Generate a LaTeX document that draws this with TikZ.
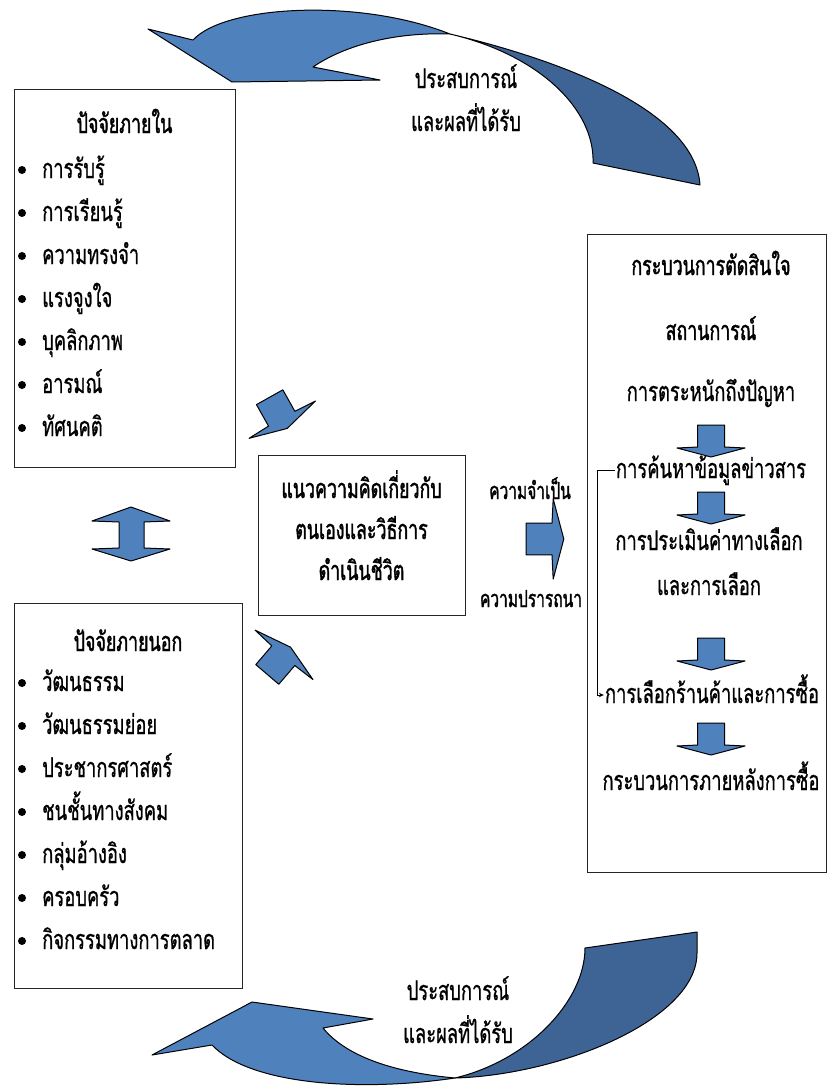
\documentclass[tikz,border=0pt]{standalone}
\usepackage{fontspec}
\setmainfont[Script=Thai]{Loma}
\newfontfamily\thai[Script=Thai, FakeStretch=0.68, FakeBold=0.8]{Loma}
\newfontfamily\thaib[Script=Thai, FakeStretch=0.66, FakeBold=1.4]{Loma}
\usetikzlibrary{arrows.meta}
\definecolor{ablue}{HTML}{4F81BD}
\definecolor{dblue}{HTML}{3E6496}
\tikzset{
  blk/.style={fill=ablue, draw=black, line width=1pt, line join=round},
  blockdown/.pic={\draw[blk] (-13.5,-22) -- (13.5,-22) -- (13.5,0) -- (34,1) -- (0,10) -- (-34,1) -- (-13.5,0) -- cycle;}
}
\begin{document}
\begin{tikzpicture}[x=1pt,y=-1pt,
  txt/.style={inner sep=0pt, anchor=base, font=\thai\fontsize{27}{31}\selectfont},
  itm/.style={txt, anchor=base west},
  ttl/.style={inner sep=0pt, anchor=base, font=\thaib\fontsize{27}{31}\selectfont},
  box/.style={draw=black!85, line width=1pt, inner sep=0pt},
  dot/.style={circle, fill=black, inner sep=0pt, minimum size=8pt}]
\useasboundingbox (0,0) rectangle (828,1090);

% boxes
\node[box, minimum width=221pt, minimum height=378pt] (inner) at (124.5,278) {};
\node[box, minimum width=228pt, minimum height=385pt] (outer) at (128,795.5) {};
\node[box, minimum width=207pt, minimum height=160pt] (center) at (361.5,535) {};
\node[box, minimum width=239pt, minimum height=638pt] (right) at (706.5,553) {};

% inner factors
\node[ttl] (t1) at (124.5,133) {ปัจจัยภายใน};
\foreach \t [count=\i] in {การรับรู้,การเรียนรู้,ความทรงจำ,แรงจูงใจ,บุคลิกภาพ,อารมณ์,ทัศนคติ}{
  \node[dot] (ib\i) at (22,{127+43*\i}) {};
  \node[itm] (it\i) at (42,{135+43*\i}) {\t};
}
% outer factors
\node[ttl] (t2) at (128,651) {ปัจจัยภายนอก};
\foreach \t [count=\i] in {วัฒนธรรม,วัฒนธรรมย่อย,ประชากรศาสตร์,ชนชั้นทางสังคม,กลุ่มอ้างอิง,ครอบครัว,กิจกรรมทางการตลาด}{
  \node[dot] (ob\i) at (22,{640+43*\i}) {};
  \node[itm] (ot\i) at (42,{648+43*\i}) {\t};
}
% center
\node[ttl] (c1) at (361.5,498) {แนวความคิดเกี่ยวกับ};
\node[ttl] (c2) at (361.5,539) {ตนเองและวิธีการ};
\node[ttl] (c3) at (361.5,580) {ดำเนินชีวิต};
\node[ttl, font=\thaib\fontsize{23.5}{27}\selectfont] (n1) at (530,499) {ความจำเป็น};
\node[ttl, font=\thaib\fontsize{23.5}{27}\selectfont] (n2) at (531,607) {ความปรารถนา};

% right box
\node[ttl] (r1) at (711,275) {กระบวนการตัดสินใจ};
\node[ttl] (r2) at (711,340) {สถานการณ์};
\node[txt] (r3) at (711,401) {การตระหนักถึงปัญหา};
\node[txt, inner xsep=1pt] (search) at (711,478) {การค้นหาข้อมูลข่าวสาร};
\node[txt] (r5) at (709,550) {การประเมินค่าทางเลือก};
\node[txt] (r6) at (709,595) {และการเลือก};
\node[txt, inner xsep=1pt] (select) at (712,703) {การเลือกร้านค้าและการซื้อ};
\node[txt] (r8) at (711,790) {กระบวนการภายหลังการซื้อ};
\coordinate (bend) at (597,470);
\draw[-{Stealth[length=5pt,width=4.5pt]}, line width=0.8pt] ([yshift=8pt]search.base west) -- ([yshift=8pt]search.base west -| bend) |- ([yshift=8pt]select.base west);

% block arrows
\pic at (711,447) {blockdown};
\pic at (711,514) {blockdown};
\pic at (711,660) {blockdown};
\pic at (711,745) {blockdown};
\pic[rotate=29.3, scale=1.12] at (281.7,418.7) {blockdown};
\pic[rotate=139.5, scale=1.12] at (283.3,655.7) {blockdown};
\pic[rotate=90, scale=1.18] at (552,539) {blockdown};
\draw[blk] (131,507) -- (170,521) -- (144,522) -- (144,548) -- (170,549) -- (131,561)
  -- (92,549) -- (119,548) -- (119,522) -- (92,521) -- cycle;

% top curved arrow
\draw[blk, fill=dblue] (450,34) .. controls (560,60) and (695,110) .. (700,185)
  -- (593,163) .. controls (595,110) and (540,55) .. (450,34) -- cycle;
\draw[blk] (450,34) .. controls (360,-2) and (225,5) .. (193,40) -- (148,29) -- (232,82)
  -- (380,80) -- (313,67) .. controls (345,45) and (395,32) .. (450,34) -- cycle;
\node[txt] (e1) at (466,88) {ประสบการณ์};
\node[txt] (e2) at (466,131) {และผลที่ได้รับ};

% bottom curved arrow
\draw[blk, fill=dblue] (455,1078) .. controls (560,1075) and (697,1020) .. (697,953)
  -- (697,932) -- (585,948) .. controls (585,1000) and (530,1060) .. (455,1078) -- cycle;
\draw[blk] (152,1055) -- (252,1002) -- (373,1019) -- (323,1028)
  .. controls (345,1055) and (390,1072) .. (455,1078)
  .. controls (360,1092) and (250,1085) .. (212,1045) -- cycle;
\node[txt] (f1) at (458,1000) {ประสบการณ์};
\node[txt] (f2) at (458,1043) {และผลที่ได้รับ};
\end{tikzpicture}
\end{document}
